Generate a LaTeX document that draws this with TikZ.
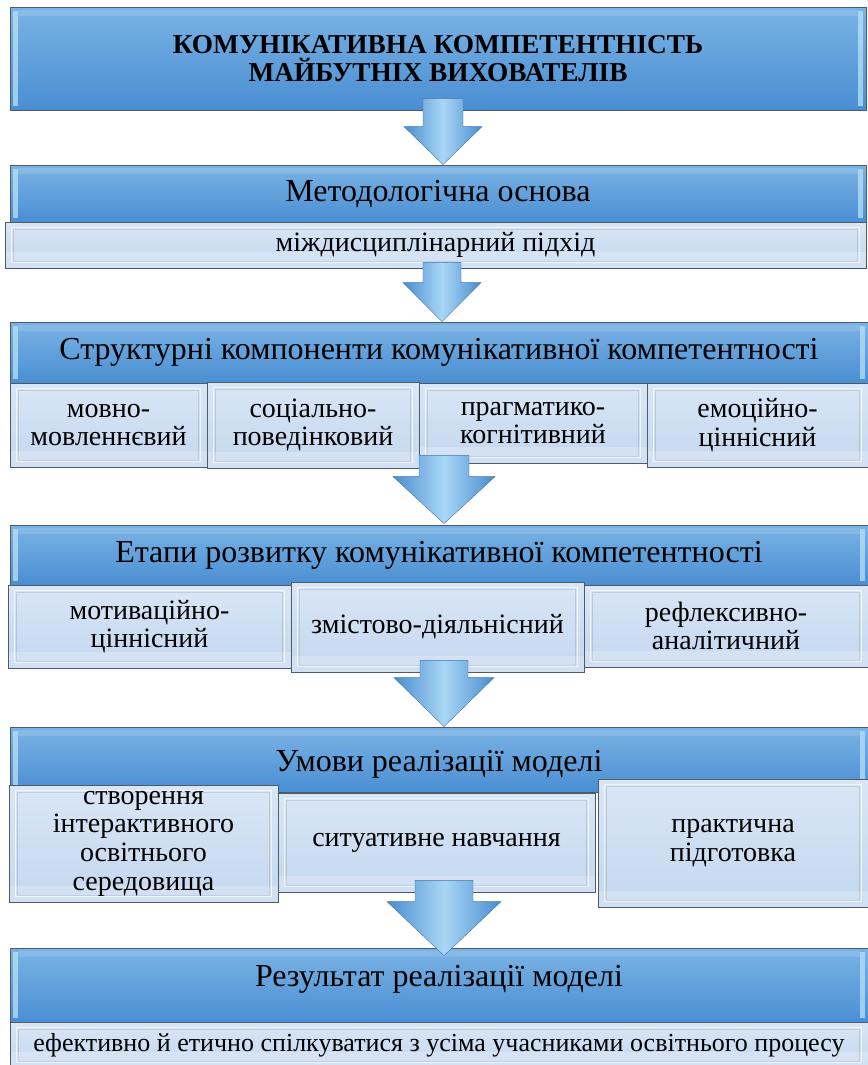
\documentclass[tikz,border=0pt]{standalone}
\usepackage{fontspec}
\setmainfont{Liberation Serif}
\usetikzlibrary{calc}
\definecolor{bluetop}{HTML}{7AB3E5}
\definecolor{bluebot}{HTML}{4A8ED2}
\definecolor{bordc}{HTML}{4E5B68}
\definecolor{subtop}{HTML}{D9E6F6}
\definecolor{subbot}{HTML}{C4D7EF}
\definecolor{arrdark}{HTML}{4A8CCF}
\definecolor{arrlight}{HTML}{A9D6F5}
\definecolor{bevel}{HTML}{B8E2F6}
\tikzset{
  mainbox/.style={rectangle, draw=bordc, line width=0.6pt, top color=bluetop, bottom color=bluebot,
    inner sep=0pt, align=center, font=\fontsize{24}{26}\selectfont,
    path picture={
      \fill[bevel, opacity=0.75] ([xshift=2pt,yshift=-3pt]path picture bounding box.north west) rectangle ([xshift=6pt,yshift=3pt]path picture bounding box.south west);
      \fill[bevel, opacity=0.75] ([xshift=-2pt,yshift=-3pt]path picture bounding box.north east) rectangle ([xshift=-6pt,yshift=3pt]path picture bounding box.south east);
      \fill[white, opacity=0.12] ([xshift=6pt,yshift=-2pt]path picture bounding box.north west) rectangle ([xshift=-6pt,yshift=-7pt]path picture bounding box.north east);
    }},
  titlebox/.style={mainbox, font=\bfseries\fontsize{20.5}{21}\selectfont},
  subbox/.style={rectangle, draw=bordc, line width=0.6pt, top color=subtop, bottom color=subbot,
    inner sep=0pt, align=center, font=\fontsize{21}{21.5}\selectfont,
    path picture={
      \draw[white, opacity=0.7, line width=1.2pt] ([shift={(5pt,-4pt)}]path picture bounding box.north west) rectangle ([shift={(-5pt,4pt)}]path picture bounding box.south east);
      \draw[bordc, opacity=0.18, line width=0.6pt] ([shift={(6.2pt,-5.2pt)}]path picture bounding box.north west) rectangle ([shift={(-6.2pt,5.2pt)}]path picture bounding box.south east);
      \fill[white, opacity=0.22] (path picture bounding box.south west) rectangle ([yshift=12pt]path picture bounding box.south east);
    }},
  arrowfill/.style={left color=arrdark, right color=arrdark, middle color=arrlight, draw=arrdark!85!black, line width=0.3pt}
}
% #1 shaft top coordinate, #2 tip coordinate, #3 shaft half width, #4 head half width, #5 head length (px)
\newcommand\blockarrow[5]{%
  \path[arrowfill] let \p1=(#1), \p2=(#2) in
    (\x1-#3*0.75pt,\y1) -- (\x1+#3*0.75pt,\y1) -- (\x1+#3*0.75pt,\y2+#5*0.75pt)
    -- (\x1+#4*0.75pt,\y2+#5*0.75pt) -- (\x1,\y2) -- (\x1-#4*0.75pt,\y2+#5*0.75pt)
    -- (\x1-#3*0.75pt,\y2+#5*0.75pt) -- cycle;
}
\begin{document}
\begin{tikzpicture}[x=0.75pt,y=-0.75pt]
\useasboundingbox[fill=white] (0,0) rectangle (868,1065);

% title
\node[titlebox, minimum width=642pt, minimum height=77.25pt] (T) at (438,58.5)
  {КОМУНІКАТИВНА КОМПЕТЕНТНІСТЬ\\МАЙБУТНІХ ВИХОВАТЕЛІВ};

% methodology
\node[mainbox, minimum width=642pt, minimum height=42.75pt] (M) at (438,193.5) {Методологічна основа};
\node[subbox, minimum width=645.75pt, minimum height=34.5pt] (M1) at (435.5,245) {міждисциплінарний підхід};

% structural components
\node[mainbox, minimum width=643.5pt, minimum height=45.75pt] (S) at (439,352.5) {Структурні компоненти комунікативної компетентності};
\node[subbox, minimum width=147.75pt, minimum height=63pt] (S1) at (108.5,425) {мовно-\\мовленнєвий};
\node[subbox, minimum width=171pt, minimum height=60pt] (S3) at (533,423) {прагматико-\\когнітивний};
\node[subbox, minimum width=159pt, minimum height=64.5pt] (S2) at (313,425) {соціально-\\поведінковий};
\node[subbox, minimum width=165.75pt, minimum height=63pt] (S4) at (757.5,425) {емоційно-\\ціннісний};

% stages
\node[mainbox, minimum width=643.5pt, minimum height=45pt] (E) at (439,555) {Етапи розвитку комунікативної компетентності};
\node[subbox, minimum width=212.25pt, minimum height=62.25pt] (E1) at (149.5,626.5) {мотиваційно-\\ціннісний};
\node[subbox, minimum width=213pt, minimum height=61.5pt] (E3) at (726,626) {рефлексивно-\\аналітичний};
\node[subbox, minimum width=219.75pt, minimum height=67.5pt] (E2) at (437.5,627) {змістово-діяльнісний};

% conditions
\node[mainbox, minimum width=643.5pt, minimum height=48.75pt] (U) at (439,759.5) {};
\node[font=\fontsize{24}{26}\selectfont, inner sep=0pt] (Ut) at (439,764) {Умови реалізації моделі};
\node[subbox, minimum width=237.75pt, minimum height=74.25pt] (U2) at (436.5,842.5) {ситуативне навчання};
\node[subbox, minimum width=201.75pt, minimum height=87.75pt] (U1) at (143.5,843.5) {створення\\інтерактивного\\освітнього\\середовища};
\node[subbox, minimum width=202.5pt, minimum height=96pt] (U3) at (733,843) {практична\\підготовка};

% result
\node[mainbox, minimum width=643.5pt, minimum height=55.5pt] (R) at (439,985) {};
\node[font=\fontsize{24}{26}\selectfont, inner sep=0pt] (Rt) at (439,979) {Результат реалізації моделі};
\node[subbox, minimum width=643.5pt, minimum height=34.5pt, font=\fontsize{19.5}{21}\selectfont] (R1) at (439,1045)
  {ефективно й етично спілкуватися з усіма учасниками освітнього процесу};

% arrows
\coordinate (a1s) at ($(T.south)+(5,-12)$);
\coordinate (a1t) at ($(M.north)+(5,0)$);
\blockarrow{a1s}{a1t}{20}{39}{38}
\coordinate (a2s) at ($(M1.south)+(6.5,-6)$);
\coordinate (a2t) at ($(S.north)+(3,0)$);
\blockarrow{a2s}{a2t}{19}{39}{39}
\coordinate (a3s) at ($(S.south)+(5,72)$);
\coordinate (a3t) at ($(E.north)+(5,-1)$);
\blockarrow{a3s}{a3t}{25}{51}{47}
\coordinate (a4s) at ($(E.south)+(5,75)$);
\coordinate (a4t) at ($(U.north)+(4,0)$);
\blockarrow{a4s}{a4t}{24}{50}{49}
\coordinate (a5s) at ($(U.south)+(5,88)$);
\coordinate (a5t) at ($(R.north)+(5,8)$);
\blockarrow{a5s}{a5t}{29}{57}{54}
\end{tikzpicture}
\end{document}
